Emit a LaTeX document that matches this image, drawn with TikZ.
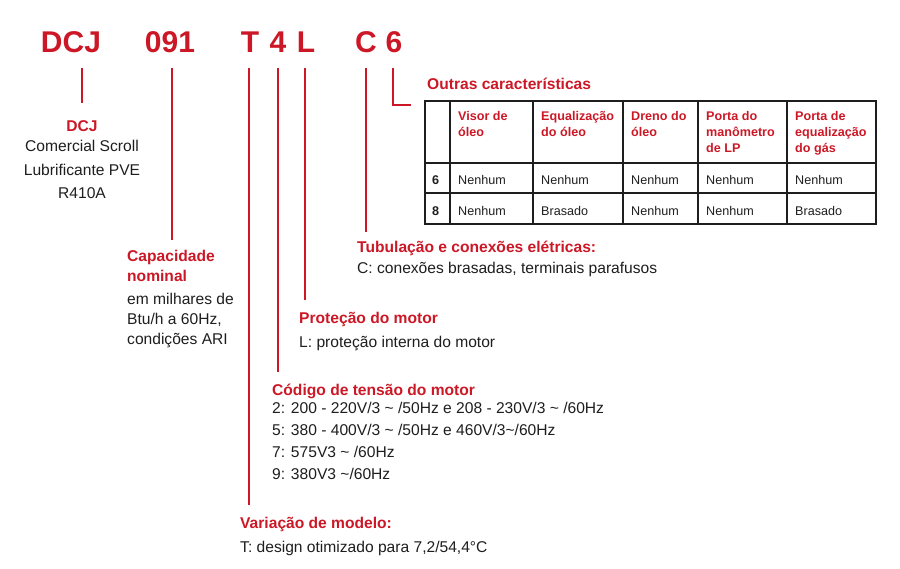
\documentclass[tikz,border=0pt]{standalone}
\usepackage{fontspec}
\setmainfont{Liberation Sans}
\definecolor{brand}{RGB}{204,24,38}
\definecolor{ink}{RGB}{30,30,30}
\begin{document}
\begin{tikzpicture}[x=1pt,y=-1pt,
  big/.style={font=\fontsize{30}{30}\selectfont\bfseries,text=brand,inner sep=0},
  ttl/.style={font=\fontsize{15.6}{19.5}\selectfont\bfseries,text=brand,anchor=west,inner sep=0,align=left},
  txt/.style={font=\fontsize{15.6}{20}\selectfont,text=ink,anchor=west,inner sep=0},
  lead/.style={draw=brand,line width=1.5pt},
  th/.style={font=\fontsize{12.6}{16}\selectfont\bfseries,text=brand,anchor=north west,inner sep=0,align=left},
  td/.style={font=\fontsize{12.6}{14}\selectfont,text=ink,anchor=west,inner sep=0},
  grid/.style={draw=ink,line width=1.5pt}]
\useasboundingbox (0,0) rectangle (900,568);
\node[big] (dcj) at (71,42) {DCJ};
\node[big] (n091) at (170,42) {091};
\node[big] (t) at (250,42) {T};
\node[big] (f) at (278,42) {4};
\node[big] (l) at (306,42) {L};
\node[big] (c) at (366,42) {C};
\node[big] (s) at (394,42) {6};
\coordinate (a1) at (82,68); \coordinate (a2) at (82,103);
\coordinate (b1) at (172,68); \coordinate (b2) at (172,240);
\coordinate (c1) at (249,68); \coordinate (c2) at (249,505);
\coordinate (d1) at (278,68); \coordinate (d2) at (278,372);
\coordinate (e1) at (305,68); \coordinate (e2) at (305,300);
\coordinate (g1) at (366,68); \coordinate (g2) at (366,232);
\coordinate (h1) at (393,68); \coordinate (h2) at (393,105); \coordinate (h3) at (411,105);
\draw[lead] (a1)--(a2); \draw[lead] (b1)--(b2); \draw[lead] (c1)--(c2);
\draw[lead] (d1)--(d2); \draw[lead] (e1)--(e2); \draw[lead] (g1)--(g2);
\draw[lead] (h1)--(h2)--(h3);
\node[ttl,anchor=center] (ldcj) at (82,126) {DCJ};
\node[txt,align=center,font=\fontsize{15.6}{23.5}\selectfont,anchor=north] (ddcj) at (82,140) {Comercial Scroll\\Lubrificante PVE\\R410A};
\node[ttl,anchor=north west] (lcap) at (127,250) {Capacidade\\nominal};
\node[txt,anchor=north west,align=left] (dcap) at (127,293) {em milhares de\\Btu/h a 60Hz,\\condições ARI};
\node[ttl] (lpro) at (299,319) {Proteção do motor};
\node[txt] (dpro) at (299,343) {L: proteção interna do motor};
\node[ttl] (lcod) at (272,391) {Código de tensão do motor};
\node[txt,anchor=north west,align=left,font=\fontsize{15.6}{22}\selectfont] (dcod) at (272,402) {2: 200 - 220V/3 \char`~\ /50Hz e 208 - 230V/3 \char`~\ /60Hz\\5: 380 - 400V/3 \char`~\ /50Hz e 460V/3\char`~/60Hz\\7: 575V3 \char`~\ /60Hz\\9: 380V3 \char`~/60Hz};
\node[ttl] (lvar) at (240,524) {Variação de modelo:};
\node[txt] (dvar) at (240,548) {T: design otimizado para 7,2/54,4°C};
\node[ttl] (ltub) at (357,248) {Tubulação e conexões elétricas:};
\node[txt] (dtub) at (357,269) {C: conexões brasadas, terminais parafusos};
\node[ttl] (lout) at (427,84) {Outras características};
% table
\draw[grid] (425,101) rectangle (876,224);
\foreach \x in {450,533,623,698,787} \draw[grid] (\x,101)--(\x,224);
\foreach \y in {163,193} \draw[grid] (425,\y)--(876,\y);
\node[th] (h1t) at (458,111) {Visor de\\óleo};
\node[th] (h2t) at (541,111) {Equalização\\do óleo};
\node[th] (h3t) at (631,111) {Dreno do\\óleo};
\node[th] (h4t) at (706,111) {Porta do\\manômetro\\de LP};
\node[th] (h5t) at (795,111) {Porta de\\equalização\\do gás};
\node[td,font=\fontsize{12.6}{14}\selectfont\bfseries] (r6) at (432,180) {6};
\node[td,font=\fontsize{12.6}{14}\selectfont\bfseries] (r8) at (432,211) {8};
\node[td] at (458,180) {Nenhum}; \node[td] at (541,180) {Nenhum}; \node[td] at (631,180) {Nenhum};
\node[td] at (706,180) {Nenhum}; \node[td] at (795,180) {Nenhum};
\node[td] at (458,211) {Nenhum}; \node[td] at (541,211) {Brasado}; \node[td] at (631,211) {Nenhum};
\node[td] at (706,211) {Nenhum}; \node[td] at (795,211) {Brasado};
\end{tikzpicture}
\end{document}
